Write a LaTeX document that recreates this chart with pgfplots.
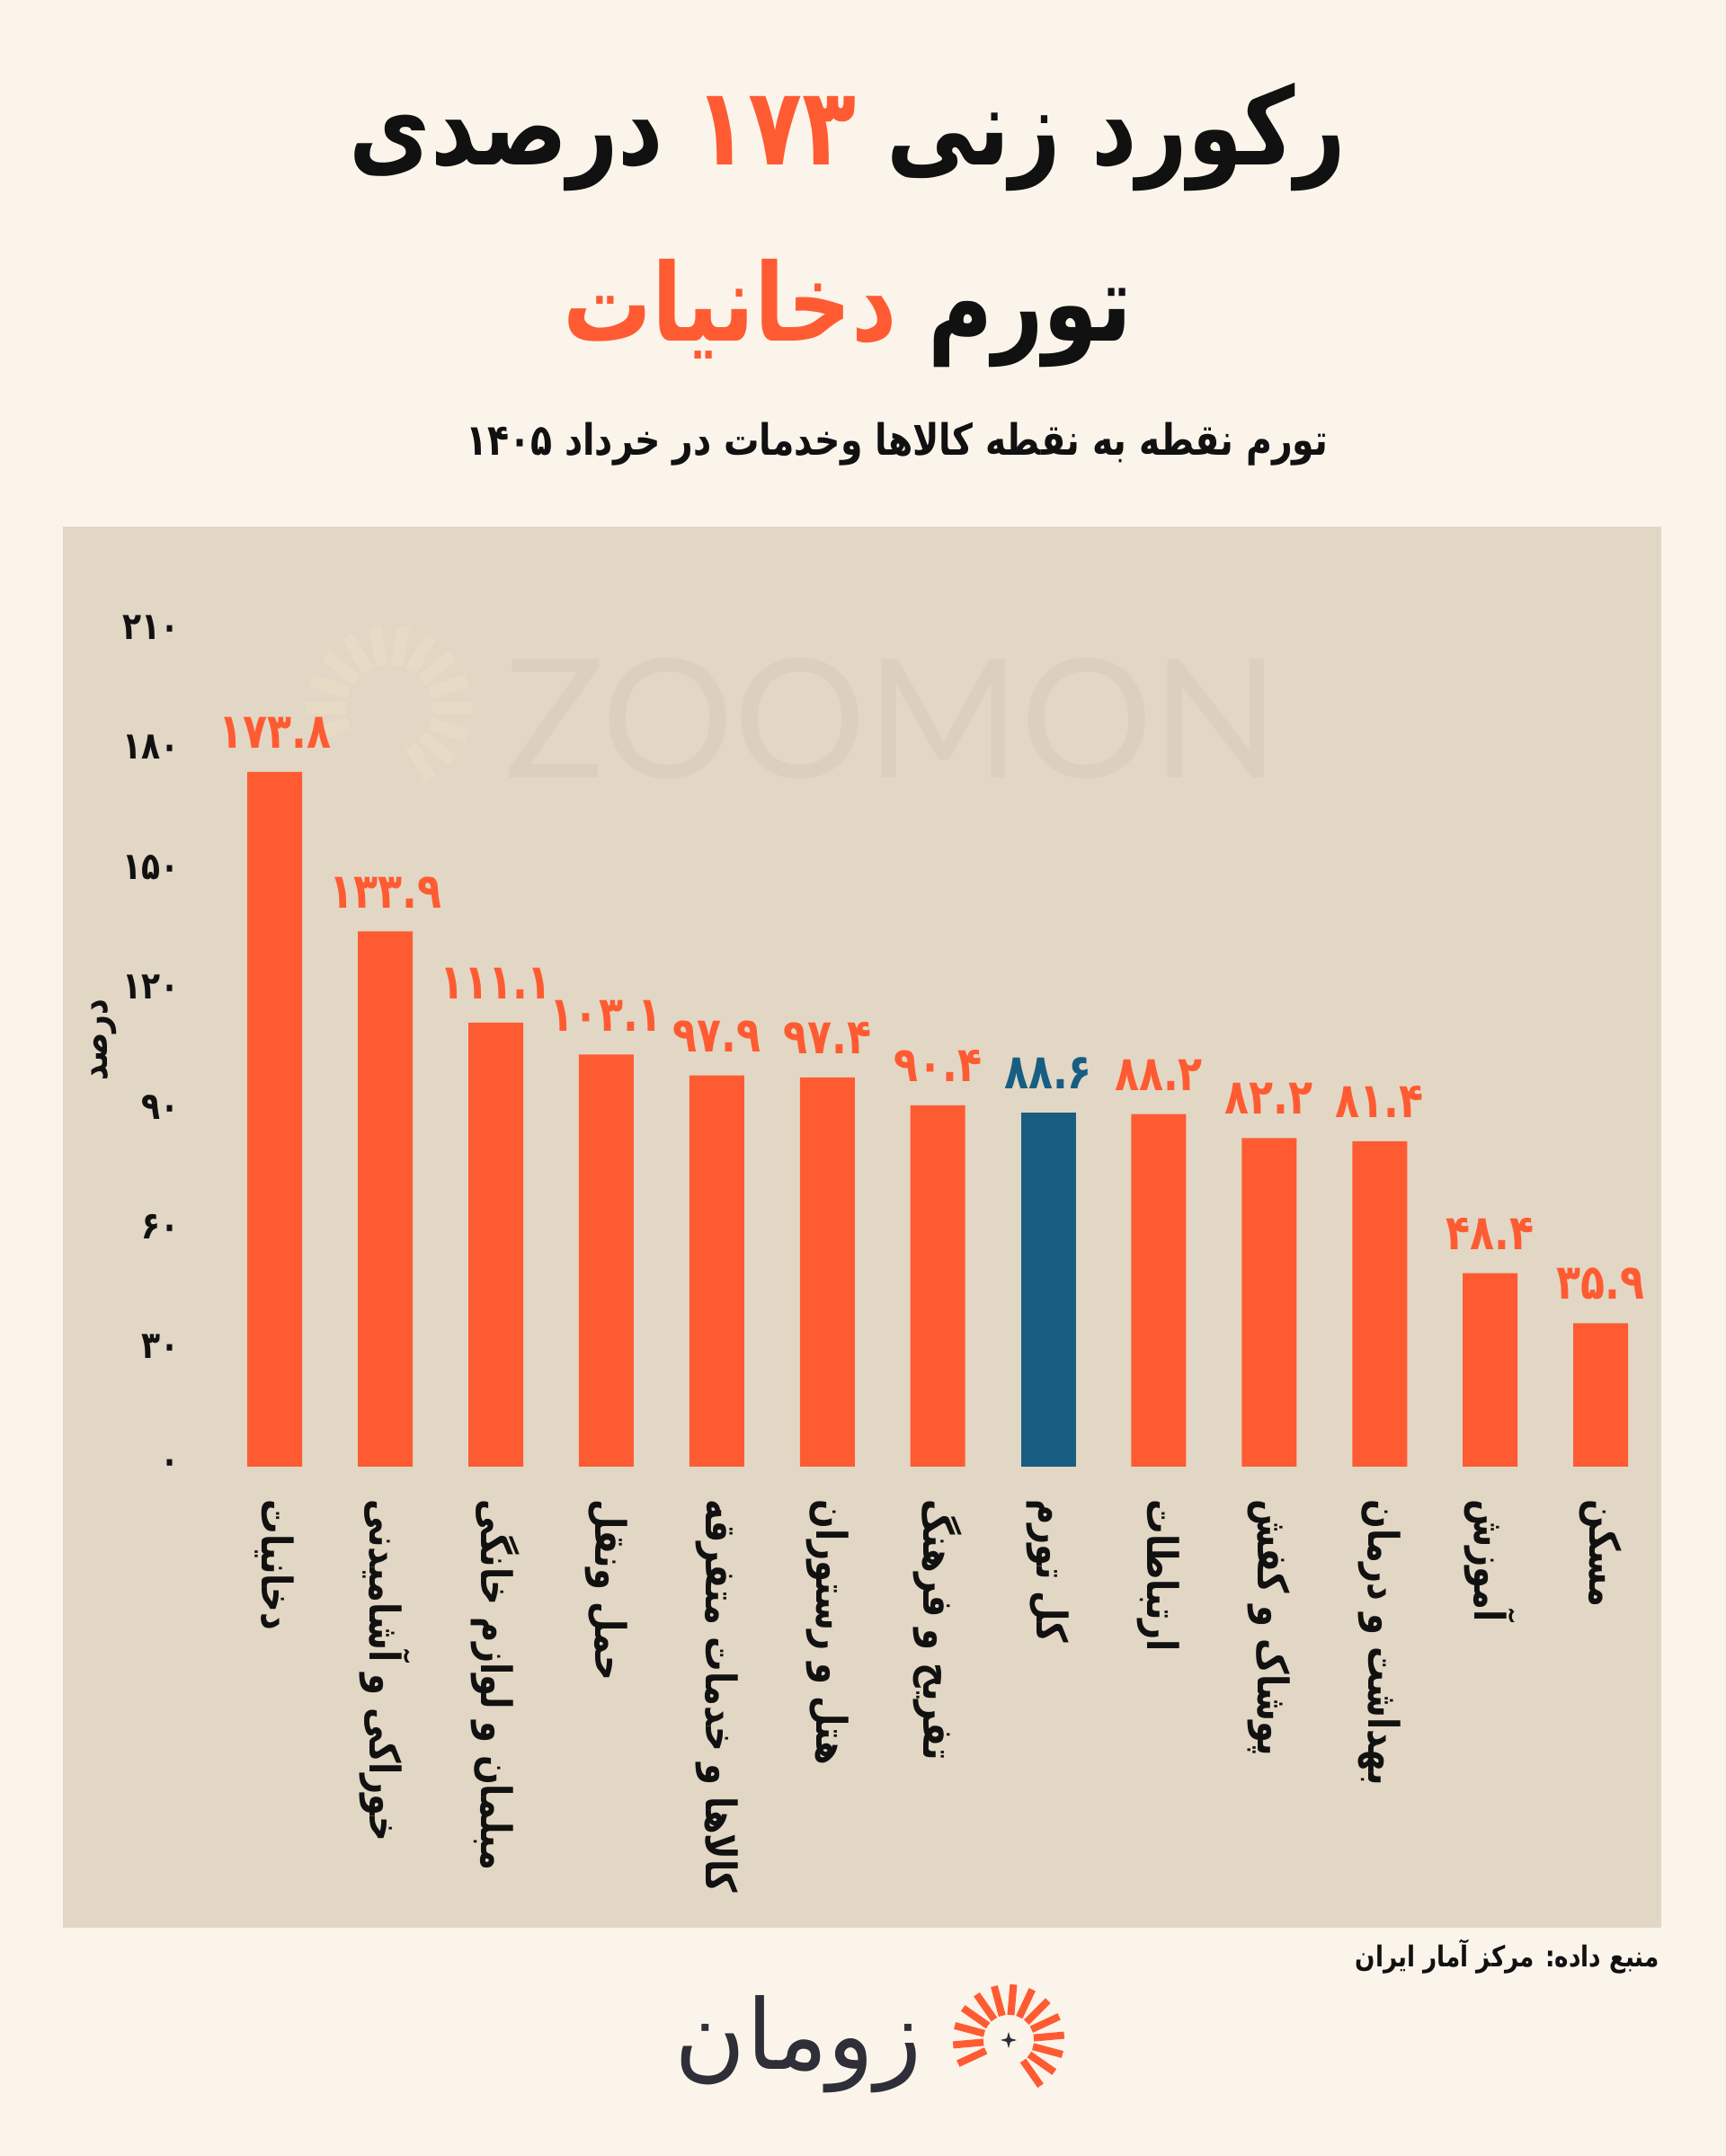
\documentclass[border=0pt]{standalone}
\usepackage{fontspec}
\usepackage{pgfplots}
\usepackage{pgfplotstable}
\pgfplotsset{compat=1.18}
\TeXXeTstate=1
\newfontfamily\fa[Script=Arabic]{DejaVu Sans}
\newfontfamily\fac[Script=Arabic,FakeStretch=0.82]{DejaVu Sans}
\newfontfamily\lat{Lato}
\definecolor{bg}{HTML}{FBF4EA}
\definecolor{panel}{HTML}{E2D7C4}
\definecolor{org}{HTML}{FF5B33}
\definecolor{blu}{HTML}{175E82}
\definecolor{ink}{HTML}{111111}
\definecolor{logo}{HTML}{2E2F38}
\definecolor{wm}{HTML}{DAD0BD}
\definecolor{wmsun}{HTML}{E7DBC5}

\pgfplotstableread{
x y lab
0 173.8 ۱۷۳.۸
1 133.9 ۱۳۳.۹
2 111.1 ۱۱۱.۱
3 103.1 ۱۰۳.۱
4 97.9 ۹۷.۹
5 97.4 ۹۷.۴
6 90.4 ۹۰.۴
8 88.2 ۸۸.۲
9 82.2 ۸۲.۲
10 81.4 ۸۱.۴
11 48.4 ۴۸.۴
12 35.9 ۳۵.۹
}\orangedata

\begin{document}
\begin{tikzpicture}
% background
\fill[bg] (0pt,0pt) rectangle (960pt,1199.5pt);
\fill[panel] (35pt,127pt) rectangle (924pt,906.5pt);
% watermark
\foreach \a in {-60,-40,...,210} {
  \draw[wmsun, line width=7pt] ([shift={(\a:24pt)}]216.5pt,805.5pt) -- ([shift={(\a:46pt)}]216.5pt,805.5pt);
}
\node[font=\lat\fontsize{92}{92}\selectfont, text=wm] at (496pt,799.5pt) {ZOOMON};
% titles (words placed in visual order, left to right, so colours stay on their words)
\node[font=\fac\bfseries\fontsize{60}{60}\selectfont, text=ink] at (471.5pt,1123pt)
  {{\beginR درصدی\endR} \textcolor{org}{۱۷۳} {\beginR رکورد زنی\endR}};
\node[font=\fac\bfseries\fontsize{60}{60}\selectfont, text=ink] at (471.5pt,1025pt)
  {\textcolor{org}{\beginR دخانیات\endR} {\beginR تورم\endR}};
\node[font=\fac\bfseries\fontsize{24}{24}\selectfont, text=ink] at (499pt,952.5pt)
  {\beginR تورم نقطه به نقطه کالاها وخدمات در خرداد ۱۴۰۵\endR};

\begin{axis}[
  at={(116pt,383.5pt)}, anchor=south west,
  scale only axis, width=805pt, height=467pt,
  xmin=-0.6, xmax=12.5, ymin=0, ymax=210,
  axis line style={draw=none}, major tick length=0pt,
  ybar, bar width=30.5pt, clip=false,
  xtick={0,...,12},
  xticklabels={
    {\beginR دخانیات\endR},
    {\beginR خوراکی و آشامیدنی\endR},
    {\beginR مبلمان و لوازم خانگی\endR},
    {\beginR حمل ونقل\endR},
    {\beginR کالاها و خدمات متفرقه\endR},
    {\beginR هتل و رستوران\endR},
    {\beginR تفریح و فرهنگ\endR},
    {\beginR کل تورم\endR},
    {\beginR ارتباطات\endR},
    {\beginR پوشاک و کفش\endR},
    {\beginR بهداشت و درمان\endR},
    {\beginR آموزش\endR},
    {\beginR مسکن\endR}},
  xticklabel style={rotate=-90, anchor=west, inner sep=0pt, text=ink,
    font=\fac\bfseries\fontsize{23.5}{23.5}\selectfont},
  xticklabel shift=18pt,
  ytick={0,30,...,210},
  yticklabels={۰,۳۰,۶۰,۹۰,۱۲۰,۱۵۰,۱۸۰,۲۱۰},
  yticklabel style={anchor=east, inner sep=0pt, xshift=-16pt, text=ink,
    font=\fac\bfseries\fontsize{21}{21}\selectfont},
  ylabel={\beginR درصد\endR},
  ylabel style={font=\fac\bfseries\fontsize{21}{21}\selectfont, text=ink, xshift=4pt},
  nodes near coords={\pgfplotspointmeta},
  nodes near coords style={anchor=south, inner sep=0pt, yshift=13pt,
    font=\fac\bfseries\fontsize{27}{27}\selectfont},
]
\addplot[fill=org, draw=none, bar shift=0pt, point meta=explicit symbolic,
  nodes near coords style={text=org}]
  table[x=x, y=y, meta=lab] {\orangedata};
\addplot[fill=blu, draw=none, bar shift=0pt, point meta=explicit symbolic,
  nodes near coords style={text=blu}]
  coordinates {(7,88.6) [۸۸.۶]};
\end{axis}

% source
\node[anchor=east, font=\fac\bfseries\fontsize{16}{16}\selectfont, text=ink] at (926.5pt,111pt)
  {\beginR منبع داده: مرکز آمار ایران\endR};
% logo
\node[font=\fa\fontsize{54}{54}\selectfont, text=logo] at (444pt,62pt) {\beginR زومان\endR};
\foreach \a in {-55,-35,...,205} {
  \draw[org, line width=4pt] ([shift={(\a:14pt)}]561pt,64.5pt) -- ([shift={(\a:31pt)}]561pt,64.5pt);
}
\fill[logo] (561pt,69pt) -- (562pt,65.5pt) -- (565.5pt,64.5pt) -- (562pt,63.5pt) -- (561pt,60pt) -- (560pt,63.5pt) -- (556.5pt,64.5pt) -- (560pt,65.5pt) -- cycle;
\end{tikzpicture}
\end{document}
